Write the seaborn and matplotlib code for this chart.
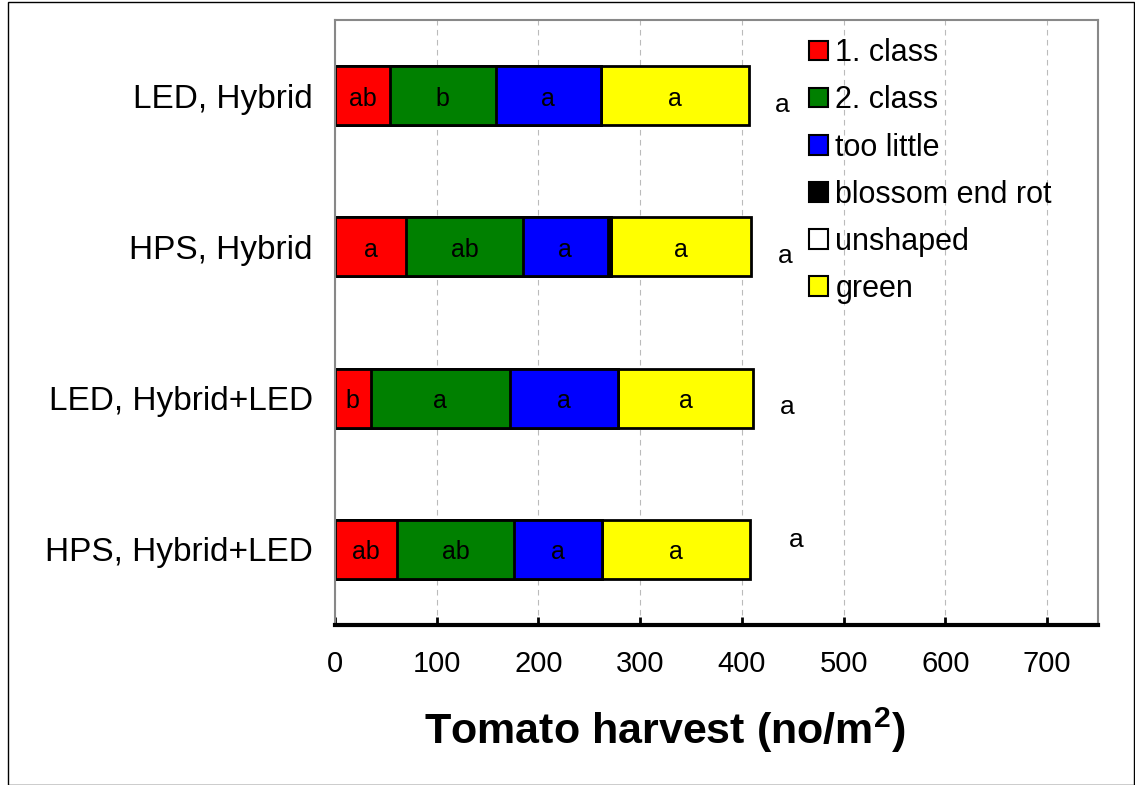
import numpy as np
import pandas as pd
import matplotlib
matplotlib.use("Agg")
import matplotlib.pyplot as plt
import seaborn as sns
from matplotlib.patches import Patch, Rectangle

treatments = ["LED, Hybrid", "HPS, Hybrid", "LED, Hybrid+LED", "HPS, Hybrid+LED"]
series = ["1. class", "2. class", "too little", "blossom end rot", "unshaped", "green"]
colors = ["#ff0000", "#008000", "#0000ff", "#000000", "#ffffff", "#ffff00"]
class1 = [54, 70, 35, 61]
class2 = [104, 115, 137, 115]
too_little = [103, 83, 106, 86]
blossom = [0, 3, 0, 0]
unshaped = [0, 0, 0, 0]
green = [146, 138, 133, 146]
letters = [["ab", "b", "a", "a"], ["a", "ab", "a", "a"], ["b", "a", "a", "a"], ["ab", "ab", "a", "a"]]
total_letters = ["a", "a", "a", "a"]
total_letter_x = [440, 443, 445, 453]

vals = np.array([class1, class2, too_little, blossom, unshaped, green], dtype=float)
cum = np.cumsum(vals, axis=0)

plt.rcParams['font.family'] = ['Liberation Sans', 'DejaVu Sans']
fig = plt.figure(figsize=(11.35, 7.85), dpi=100)
ax = fig.add_axes([335/1135, 1-625/785, (1098-335)/1135, (625-20)/785])
for i in range(len(series) - 1, -1, -1):
    df = pd.DataFrame({"t": treatments, "v": cum[i]})
    sns.barplot(data=df, x="v", y="t", orient="h", color=colors[i], width=0.39,
                edgecolor="black", linewidth=2, ax=ax, saturation=1)
for j in range(len(treatments)):
    for i, idx in enumerate([0, 1, 2, 5]):
        left = cum[idx - 1][j] if idx > 0 else 0
        ax.text((left + cum[idx][j]) / 2, j + 0.02, letters[j][i], ha="center", va="center", fontsize=18)
    ax.text(total_letter_x[j], j + 0.06 if j < 3 else j - 0.06, total_letters[j], ha="center", va="center", fontsize=19)

ax.set_xlim(0, 750)
ax.set_ylim(3.5, -0.5)
ax.set_xticks(range(0, 800, 100))
ax.tick_params(axis="x", labelsize=21, length=6, width=2, direction="in", pad=18)
ax.tick_params(axis="y", labelsize=24, length=0, pad=16)
ax.set_ylabel("")
ax.set_xlabel("Tomato harvest (no/m$^\\mathregular{2}$)", fontsize=31, fontweight="bold")
ax.xaxis.set_label_coords((665-335)/763, -(706-625)/605)
ax.grid(axis="x", color="#bbbbbb", linestyle=(0, (5, 4)), linewidth=0.8)
ax.set_axisbelow(True)
for s in ["top", "right", "left"]:
    ax.spines[s].set_color("#888888")
    ax.spines[s].set_linewidth(1.5)
ax.spines["bottom"].set_linewidth(3)

handles = [Patch(facecolor=c, edgecolor="black", linewidth=1.5) for c in colors]
ax.legend(handles, series, loc="upper left", bbox_to_anchor=((788-335)/763, 1.005), frameon=False,
          fontsize=22, handlelength=0.6, handleheight=0.6, handletextpad=0.25, labelspacing=0.56,
          borderaxespad=0.3)

fig.patches.append(Rectangle((8/1135, 0), 1 - 9/1135, 1 - 2/785, transform=fig.transFigure,
                             fill=False, edgecolor="black", linewidth=1))
fig.savefig("out.png", dpi=100)
